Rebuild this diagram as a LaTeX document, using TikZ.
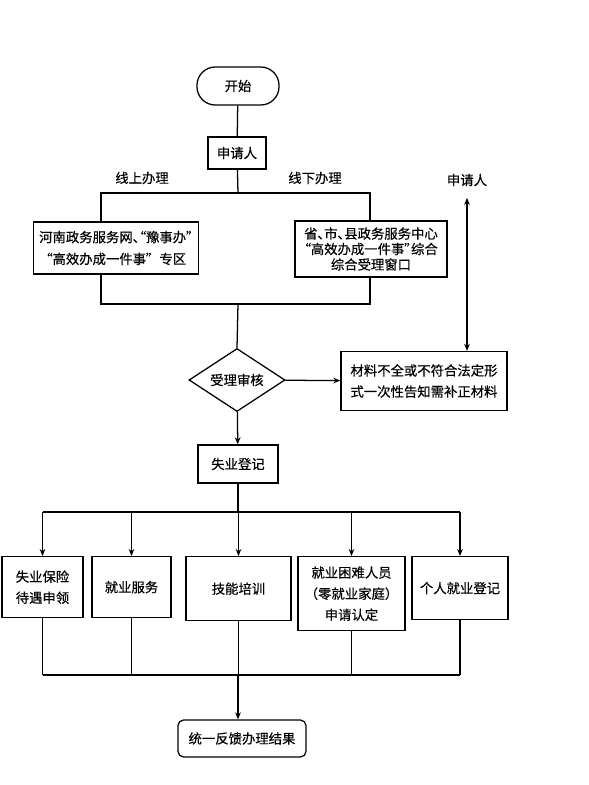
\documentclass[tikz,border=0pt]{standalone}
\usepackage{fontspec}
\setmainfont{Noto Sans CJK SC}[RawFeature=+palt, FakeBold=0.4]
\newfontfamily\fullwidth{Noto Sans CJK SC}[FakeBold=0.4]
\usetikzlibrary{shapes.geometric, arrows.meta}
\tikzset{
  box/.style={draw, line width=0.9pt, align=center, inner sep=1pt, font=\fontsize{9.5}{15}\selectfont},
  term/.style={box, rounded corners=13pt},
  decide/.style={draw, diamond, line width=0.9pt, inner sep=0pt, aspect=1.5, font=\fontsize{9.5}{12}\selectfont},
  lbl/.style={font=\fontsize{9.5}{12}\selectfont},
  conn/.style={line width=0.9pt},
  arr/.style={conn, -{Stealth[length=5pt, width=4pt]}}
}
\begin{document}
\begin{tikzpicture}[x=0.025cm, y=-0.025cm]
    \useasboundingbox (0,0) rectangle (589,785);
    % top part
    \node[term, minimum width=2.05cm, minimum height=0.95cm] (start) at (238,86) {开始};
    \node[box, minimum width=1.45cm, minimum height=0.8cm] (app) at (237,153) {申请人};
    \node[lbl] at (142,178) {线上办理};
    \node[lbl] at (315,178) {线下办理};
    \node[box, minimum width=4.125cm, minimum height=1.3cm, font=\fontsize{9.5}{15.5}\selectfont] (online) at (116,248)
        {河南政务服务网、“豫事办”\\“高效办成一件事”\hspace{0.5em}专区};
    \node[box, minimum width=3.8cm, minimum height=1.4cm, font=\fontsize{9.5}{11}\selectfont] (offline) at (371,249)
        {省、市、县政务服务中心\\“高效办成一件事”综合\\综合受理窗口};
    \coordinate (split) at (238,193);
    \coordinate (onl) at (101,193);
    \coordinate (offl) at (370,193);
    \coordinate (merge) at (238,304);
    \draw[conn] (start) -- (app);
    \draw[conn] (app) -- (split);
    \draw[conn] (onl |- online.north) -- (onl) -- (offl) -- (offl |- offline.north);
    \draw[conn] (onl |- online.south) -- (onl |- merge) -- (offl |- merge) -- (offl |- offline.south);
    % check
    \node[decide, minimum width=2.4cm, minimum height=1.575cm] (check) at (237,380) {受理审核};
    \node[box, minimum width=4.15cm, minimum height=1.475cm] (lack) at (424,381)
        {材料不全或不符合法定形\\式一次性告知需补正材料};
    \node[lbl, outer sep=5pt] (back) at (467,180) {申请人};
    \draw[conn] (merge) -- (check.north);
    \draw[arr] (check) -- (lack);
    \draw[conn, {Stealth[length=5pt, width=4pt]}-{Stealth[length=5pt, width=4pt]}] (back) -- (back |- lack.north);
    \node[box, minimum width=2cm, minimum height=0.95cm] (reg) at (238,464) {失业登记};
    \draw[arr] (check) -- (reg);
    % services
    \node[box, anchor=north, minimum width=2.025cm, minimum height=1.525cm] (b1) at (42.5,556) {失业保险\\待遇申领};
    \node[box, anchor=north, minimum width=1.975cm, minimum height=1.525cm] (b2) at (131.5,556) {就业服务};
    \node[box, anchor=north, minimum width=2.625cm, minimum height=1.6cm] (b3) at (238.5,556) {技能培训};
    \node[box, anchor=north, minimum width=2.675cm, minimum height=1.85cm] (b4) at (351.5,556)
        {就业困难人员\\{\fullwidth（零就业家庭）}\\申请认定};
    \node[box, anchor=north, minimum width=2.4cm, minimum height=1.575cm] (b5) at (460,556) {个人就业登记};
    \coordinate (fork) at (238,512);
    \coordinate (merge2) at (238,675);
    \draw[conn] (reg) -- (fork);
    \draw[conn] (fork -| b1) -- (fork -| b5);
    \foreach \i in {1,...,5}
    {\draw[arr] (fork -| b\i) -- (b\i.north);}
    \foreach \i in {1,...,5}
    {\draw[conn] (b\i) -- (merge2 -| b\i);}
    \draw[conn] (merge2 -| b1) -- (merge2 -| b5);
    \node[box, rounded corners=4pt, minimum width=3.2cm, minimum height=0.925cm] (result) at (242,738.5) {统一反馈办理结果};
    \draw[arr] (merge2) -- (merge2 |- result.north);
\end{tikzpicture}
\end{document}
